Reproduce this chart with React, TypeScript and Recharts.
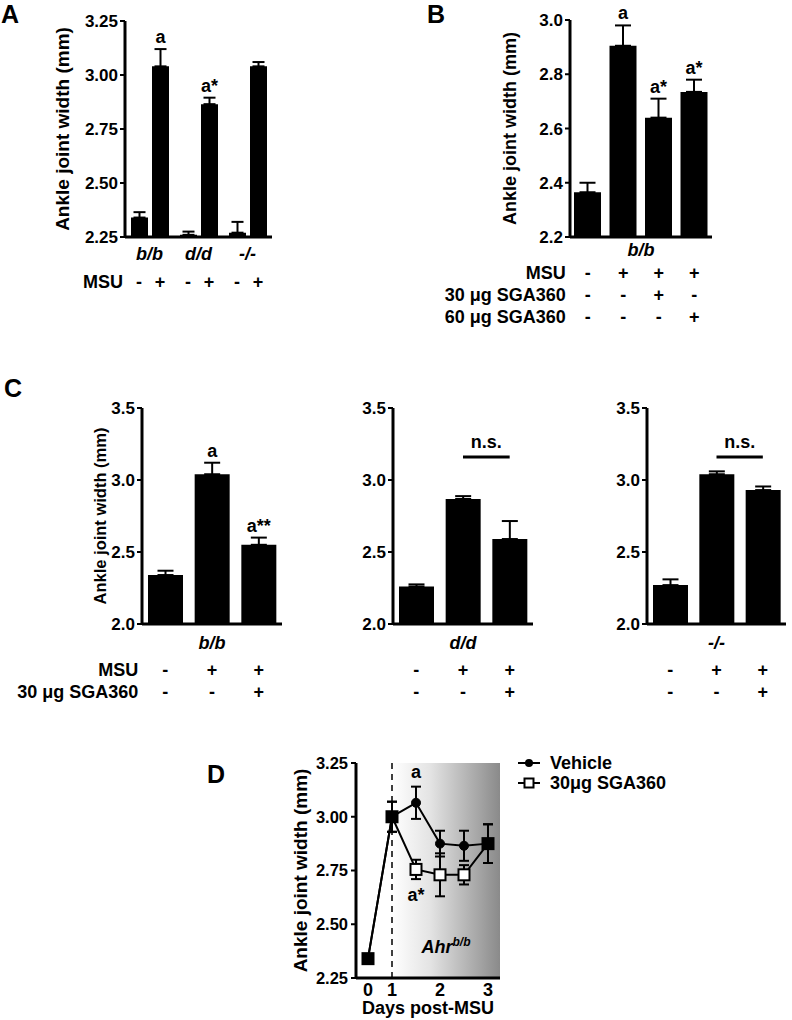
import React from "react";
import {
  BarChart,
  Bar,
  LineChart,
  Line,
  XAxis,
  YAxis,
  ErrorBar,
  LabelList,
  ReferenceLine,
  ReferenceArea,
  ReferenceDot,
  Legend,
} from "recharts";

const FONT = "'Liberation Sans', Arial, Helvetica, sans-serif";
const INK = "#000";
const Y_TITLE = "Ankle joint width (mm)";

// A: genotype x MSU
const A_GENOTYPES = ["b/b", "d/d", "-/-"];
const A_CTRL = [2.34, 2.26, 2.27];
const A_CTRL_SEM = [0.025, 0.015, 0.05];
const A_MSU = [3.04, 2.865, 3.04];
const A_MSU_SEM = [0.08, 0.03, 0.02];
const A_MSU_NOTE = ["a", "a*", ""];
const A_SIGNS = ["-", "+"];
const A_TICKS = [2.25, 2.5, 2.75, 3.0, 3.25];

// B: b/b, SGA360 dose
const B_GROUPS = ["veh", "msu", "msu30", "msu60"];
const B_MEAN = [2.365, 2.905, 2.64, 2.735];
const B_SEM = [0.035, 0.075, 0.07, 0.045];
const B_NOTE = ["", "a", "a*", "a*"];
const B_MSU = ["-", "+", "+", "+"];
const B_SGA30 = ["-", "-", "+", "-"];
const B_SGA60 = ["-", "-", "-", "+"];
const B_ROW_LABELS = ["MSU", "30 \u03bcg SGA360", "60 \u03bcg SGA360"];
const B_TICKS = [2.2, 2.4, 2.6, 2.8, 3.0];

// C: three genotypes, 30 ug SGA360
const C_GROUPS = ["veh", "msu", "msuSga"];
const C_MSU = ["-", "+", "+"];
const C_SGA30 = ["-", "-", "+"];
const C_ROW_LABELS = ["MSU", "30 \u03bcg SGA360"];
const C_TICKS = [2.0, 2.5, 3.0, 3.5];
const C_BB_MEAN = [2.34, 3.04, 2.55];
const C_BB_SEM = [0.03, 0.08, 0.05];
const C_BB_NOTE = ["", "a", "a**"];
const C_DD_MEAN = [2.26, 2.868, 2.59];
const C_DD_SEM = [0.015, 0.02, 0.125];
const C_KO_MEAN = [2.27, 3.04, 2.93];
const C_KO_SEM = [0.04, 0.02, 0.025];
const C_NS_LEVEL = 3.16;

// D: time course
const D_DAYS = [0, 1, 1.5, 2, 2.5, 3];
const D_VEH = [2.34, 3.0, 3.065, 2.875, 2.865, 2.875];
const D_VEH_SEM = [0.02, 0.07, 0.075, 0.06, 0.07, 0.09];
const D_VEH_NOTE = ["", "", "a", "", "", ""];
const D_SGA = [2.34, 3.0, 2.755, 2.73, 2.73, 2.875];
const D_SGA_SEM = [0.02, 0.07, 0.045, 0.1, 0.045, 0.09];
const D_SGA_NOTE = ["", "", "a*", "", "", ""];
const D_SERIES = ["Vehicle", "30\u03bcg SGA360"];
const D_TICK_DAYS = [0, 1, 2, 3];
const D_Y_TICKS = [2.25, 2.5, 2.75, 3.0, 3.25];

// the day axis is broken: day 0 sits half a day left of day 1
const dayToPos = (d: number) => (d === 0 ? 0.5 : d);

const aData = A_GENOTYPES.map((g, i) => ({
  genotype: g,
  ctrl: A_CTRL[i],
  ctrlErr: [0, A_CTRL_SEM[i]],
  msu: A_MSU[i],
  msuErr: [0, A_MSU_SEM[i]],
  note: A_MSU_NOTE[i],
}));

const bData = B_GROUPS.map((g, i) => ({
  group: g,
  mean: B_MEAN[i],
  err: [0, B_SEM[i]],
  note: B_NOTE[i],
}));

const dData = D_DAYS.map((d, i) => ({
  pos: dayToPos(d),
  veh: D_VEH[i],
  vehErr: D_VEH_SEM[i],
  sga: D_SGA[i],
  sgaErr: D_SGA_SEM[i],
}));

const tickFont = { fill: INK, fontSize: 17, fontWeight: "bold", fontFamily: FONT };
const axisStroke = { stroke: INK, strokeWidth: 3 };
const tickStroke = { stroke: INK, strokeWidth: 2 };

function yTitle(offset: number, size = 19) {
  return {
    value: Y_TITLE,
    angle: -90,
    position: "insideLeft" as const,
    offset,
    fontSize: size,
    fontWeight: "bold",
    fontFamily: FONT,
    fill: INK,
    style: { textAnchor: "middle" },
  };
}

// letter above the error bar of a bar, placed with the bar's own pixel scale
function noteAbove(means: number[], sems: number[], base: number, gap = 6) {
  return function NoteLabel(props: any) {
    const { value, index } = props;
    if (!value) return null;
    const box = props.viewBox ?? props;
    const { x, y, width, height } = box;
    const perUnit = Math.abs(height) / (means[index] - base);
    const top = Math.min(y, y + height) - sems[index] * perUnit;
    return (
      <text
        x={x + width / 2}
        y={top - gap}
        textAnchor="middle"
        fontSize={18}
        fontWeight="bold"
        fontFamily={FONT}
        fill={INK}
      >
        {value}
      </text>
    );
  };
}

const SIGN_OFFSET_A = (17 + 4) / 2;

function ATick(props: any) {
  const { x, y, payload, index } = props;
  return (
    <g fontFamily={FONT} fontWeight="bold" fontSize={18} fill={INK} textAnchor="middle">
      <text x={x} y={y + 23} fontStyle="italic">
        {payload.value}
      </text>
      <text x={x - SIGN_OFFSET_A} y={y + 51}>
        {A_SIGNS[0]}
      </text>
      <text x={x + SIGN_OFFSET_A} y={y + 51}>
        {A_SIGNS[1]}
      </text>
      {index === 0 && (
        <text x={x - SIGN_OFFSET_A - 16} y={y + 51} textAnchor="end">
          MSU
        </text>
      )}
    </g>
  );
}

function BTick(props: any) {
  const { x, y, index } = props;
  const rows = [B_MSU, B_SGA30, B_SGA60];
  return (
    <g fontFamily={FONT} fontWeight="bold" fontSize={18} fill={INK} textAnchor="middle">
      {rows.map((row, r) => (
        <text key={r} x={x} y={y + 42 + r * 22}>
          {row[index]}
        </text>
      ))}
      {index === 0 &&
        B_ROW_LABELS.map((label, r) => (
          <text key={`l${r}`} x={x - 22} y={y + 42 + r * 22} textAnchor="end">
            {label}
          </text>
        ))}
    </g>
  );
}

function CTick(props: any) {
  const { x, y, index, genotype, rowLabels } = props;
  const rows = [C_MSU, C_SGA30];
  return (
    <g fontFamily={FONT} fontWeight="bold" fontSize={18} fill={INK} textAnchor="middle">
      {index === 1 && (
        <text x={x} y={y + 25} fontStyle="italic">
          {genotype}
        </text>
      )}
      {rows.map((row, r) => (
        <text key={r} x={x} y={y + 52 + r * 22}>
          {row[index]}
        </text>
      ))}
      {rowLabels &&
        index === 0 &&
        C_ROW_LABELS.map((label, r) => (
          <text key={`l${r}`} x={x - 27} y={y + 52 + r * 22} textAnchor="end">
            {label}
          </text>
        ))}
    </g>
  );
}

function PanelA() {
  return (
    <BarChart
      width={290}
      height={300}
      data={aData}
      margin={{ top: 21, right: 18, left: 0, bottom: 0 }}
      barSize={17}
      barGap={4}
    >
      <XAxis
        dataKey="genotype"
        height={63}
        axisLine={axisStroke}
        tickLine={false}
        tickSize={0}
        tickMargin={0}
        interval={0}
        tick={<ATick />}
      />
      <YAxis
        domain={[2.25, 3.25]}
        ticks={A_TICKS}
        interval={0}
        allowDataOverflow
        width={125}
        tickFormatter={(v: number) => v.toFixed(2)}
        axisLine={axisStroke}
        tickLine={tickStroke}
        tickSize={5}
        tickMargin={2}
        tick={tickFont}
        label={yTitle(62)}
      />
      <Bar dataKey="ctrl" fill={INK} isAnimationActive={false}>
        <ErrorBar dataKey="ctrlErr" width={6} stroke={INK} strokeWidth={2} direction="y" />
      </Bar>
      <Bar dataKey="msu" fill={INK} isAnimationActive={false}>
        <ErrorBar dataKey="msuErr" width={6} stroke={INK} strokeWidth={2} direction="y" />
        <LabelList dataKey="note" content={noteAbove(A_MSU, A_MSU_SEM, 2.25)} />
      </Bar>
    </BarChart>
  );
}

function PanelB() {
  return (
    <BarChart
      width={300}
      height={330}
      data={bData}
      margin={{ top: 20, right: 8, left: 0, bottom: 0 }}
      barSize={27}
    >
      <XAxis
        dataKey="group"
        height={93}
        axisLine={axisStroke}
        tickLine={false}
        tickSize={0}
        tickMargin={0}
        interval={0}
        tick={<BTick />}
        label={{
          value: "b/b",
          position: "insideTop",
          offset: 6,
          fontSize: 18,
          fontWeight: "bold",
          fontStyle: "italic",
          fontFamily: FONT,
          fill: INK,
        }}
      />
      <YAxis
        domain={[2.2, 3.0]}
        ticks={B_TICKS}
        interval={0}
        allowDataOverflow
        width={150}
        tickFormatter={(v: number) => v.toFixed(1)}
        axisLine={axisStroke}
        tickLine={tickStroke}
        tickSize={5}
        tickMargin={2}
        tick={tickFont}
        label={yTitle(90, 18)}
      />
      <Bar dataKey="mean" fill={INK} isAnimationActive={false}>
        <ErrorBar dataKey="err" width={8} stroke={INK} strokeWidth={2} direction="y" />
        <LabelList dataKey="note" content={noteAbove(B_MEAN, B_SEM, 2.2)} />
      </Bar>
    </BarChart>
  );
}

interface CPanelProps {
  genotype: string;
  means: number[];
  sems: number[];
  notes?: string[];
  ns?: boolean;
  title?: boolean;
  width: number;
  axisWidth: number;
  right: number;
}

function CPanel({ genotype, means, sems, notes, ns, title, width, axisWidth, right }: CPanelProps) {
  const data = C_GROUPS.map((g, i) => ({
    group: g,
    mean: means[i],
    err: [0, sems[i]],
    note: notes ? notes[i] : "",
  }));
  return (
    <BarChart
      width={width}
      height={340}
      data={data}
      margin={{ top: 38, right, left: 0, bottom: 0 }}
      barSize={35}
    >
      <XAxis
        dataKey="group"
        height={86}
        axisLine={axisStroke}
        tickLine={false}
        tickSize={0}
        tickMargin={0}
        interval={0}
        tick={<CTick genotype={genotype} rowLabels={title} />}
      />
      <YAxis
        domain={[2.0, 3.5]}
        ticks={C_TICKS}
        interval={0}
        allowDataOverflow
        width={axisWidth}
        tickFormatter={(v: number) => v.toFixed(1)}
        axisLine={axisStroke}
        tickLine={tickStroke}
        tickSize={5}
        tickMargin={2}
        tick={tickFont}
        label={title ? yTitle(100, 16.5) : undefined}
      />
      {ns && (
        <ReferenceLine
          segment={[
            { x: C_GROUPS[1], y: C_NS_LEVEL },
            { x: C_GROUPS[2], y: C_NS_LEVEL },
          ]}
          stroke={INK}
          strokeWidth={3}
          label={{
            value: "n.s.",
            position: "top",
            offset: 9,
            fontSize: 18,
            fontWeight: "bold",
            fontFamily: FONT,
            fill: INK,
          }}
        />
      )}
      <Bar dataKey="mean" fill={INK} isAnimationActive={false}>
        <ErrorBar dataKey="err" width={8} stroke={INK} strokeWidth={2} direction="y" />
        {notes && <LabelList dataKey="note" content={noteAbove(means, sems, 2.0)} />}
      </Bar>
    </BarChart>
  );
}

function SquareDot(props: any) {
  const { cx, cy, payload, index } = props;
  if (cx == null || cy == null) return <g key={`sq-${index}`} />;
  const merged = payload.veh === payload.sga;
  return (
    <rect
      key={`sq-${index}`}
      x={cx - 5.5}
      y={cy - 5.5}
      width={11}
      height={11}
      fill={merged ? INK : "#fff"}
      stroke={INK}
      strokeWidth={2}
    />
  );
}

function DLegend() {
  return (
    <div style={{ fontFamily: FONT, fontWeight: "bold", fontSize: 18, color: INK }}>
      {D_SERIES.map((name, i) => (
        <div key={name} style={{ display: "flex", alignItems: "center", height: 20 }}>
          <svg width={22} height={14} style={{ marginRight: 10 }}>
            <line x1={0} y1={7} x2={22} y2={7} stroke={INK} strokeWidth={2} />
            {i === 0 ? (
              <circle cx={11} cy={7} r={4} fill={INK} />
            ) : (
              <rect x={6.5} y={2.5} width={9} height={9} fill="#fff" stroke={INK} strokeWidth={2} />
            )}
          </svg>
          <span>{name}</span>
        </div>
      ))}
    </div>
  );
}

function AhrLabel(props: any) {
  const vb = props.viewBox;
  return (
    <text
      x={vb.x + vb.width / 2}
      y={vb.y + vb.height - 25}
      textAnchor="middle"
      fontFamily={FONT}
      fontWeight="bold"
      fontStyle="italic"
      fontSize={18}
      fill={INK}
    >
      Ahr
      <tspan dy={-7} fontSize={12}>
        b/b
      </tspan>
    </text>
  );
}

const noteStyle = { fontSize: 18, fontWeight: "bold", fontFamily: FONT, fill: INK };

function PanelD() {
  return (
    <LineChart
      width={572}
      height={280}
      data={dData}
      margin={{ top: 23, right: 292, left: 0, bottom: 0 }}
    >
      <defs>
        <linearGradient id="ahrShade" x1="0" y1="0" x2="1" y2="0">
          <stop offset="0%" stopColor="#ffffff" />
          <stop offset="35%" stopColor="#e4e4e4" />
          <stop offset="100%" stopColor="#8a8a8a" />
        </linearGradient>
      </defs>
      <ReferenceArea
        x1={1}
        x2={3.25}
        y1={2.25}
        y2={3.25}
        fill="url(#ahrShade)"
        fillOpacity={1}
        stroke="none"
        label={{ content: AhrLabel }}
      />
      <ReferenceLine x={1} stroke={INK} strokeWidth={1.5} strokeDasharray="6 5" />
      <XAxis
        type="number"
        dataKey="pos"
        domain={[0.25, 3.25]}
        ticks={D_TICK_DAYS.map(dayToPos)}
        interval={0}
        allowDataOverflow
        height={42}
        tickFormatter={(_v: number, i: number) => String(D_TICK_DAYS[i])}
        axisLine={axisStroke}
        tickLine={false}
        tickSize={0}
        tickMargin={5}
        tick={{ ...tickFont, fontSize: 18 }}
        label={{
          value: "Days post-MSU",
          position: "insideBottom",
          offset: 6,
          fontSize: 18,
          fontWeight: "bold",
          fontFamily: FONT,
          fill: INK,
        }}
      />
      <YAxis
        domain={[2.25, 3.25]}
        ticks={D_Y_TICKS}
        interval={0}
        allowDataOverflow
        width={136}
        tickFormatter={(v: number) => v.toFixed(2)}
        axisLine={axisStroke}
        tickLine={tickStroke}
        tickSize={5}
        tickMargin={3}
        tick={{ ...tickFont, fontSize: 16.5 }}
        label={yTitle(80)}
      />
      <Legend
        layout="vertical"
        align="center"
        verticalAlign="middle"
        wrapperStyle={{ left: 298, top: 13, width: 200, height: 40 }}
        content={() => <DLegend />}
      />
      <Line
        dataKey="veh"
        stroke={INK}
        strokeWidth={2}
        dot={{ r: 4.5, fill: INK, stroke: INK, strokeWidth: 1 }}
        isAnimationActive={false}
      >
        <ErrorBar dataKey="vehErr" width={5} stroke={INK} strokeWidth={2} direction="y" />
      </Line>
      <Line
        dataKey="sga"
        stroke={INK}
        strokeWidth={2}
        dot={SquareDot}
        isAnimationActive={false}
      >
        <ErrorBar dataKey="sgaErr" width={5} stroke={INK} strokeWidth={2} direction="y" />
      </Line>
      {D_DAYS.map((d, i) =>
        D_VEH_NOTE[i] ? (
          <ReferenceDot
            key={`vn${i}`}
            x={dayToPos(d)}
            y={D_VEH[i] + D_VEH_SEM[i]}
            r={0}
            fill="none"
            stroke="none"
            label={{ value: D_VEH_NOTE[i], position: "top", offset: 9, ...noteStyle }}
          />
        ) : null
      )}
      {D_DAYS.map((d, i) =>
        D_SGA_NOTE[i] ? (
          <ReferenceDot
            key={`sn${i}`}
            x={dayToPos(d)}
            y={D_SGA[i] - D_SGA_SEM[i]}
            r={0}
            fill="none"
            stroke="none"
            label={{ value: D_SGA_NOTE[i], position: "bottom", offset: 9, ...noteStyle }}
          />
        ) : null
      )}
    </LineChart>
  );
}

function Letter({ text, left, top }: { text: string; left: number; top: number }) {
  return (
    <div
      style={{
        position: "absolute",
        left,
        top,
        fontSize: 25,
        lineHeight: "normal",
        fontWeight: "bold",
        fontFamily: FONT,
        color: INK,
      }}
    >
      {text}
    </div>
  );
}

export default function App() {
  return (
    <div
      style={{
        position: "absolute",
        left: 0,
        top: 0,
        width: 792,
        height: 1020,
        background: "#fff",
        overflow: "hidden",
      }}
    >
      <Letter text="A" left={1} top={0} />
      <Letter text="B" left={427} top={0} />
      <Letter text="C" left={4} top={374} />
      <Letter text="D" left={207} top={760} />

      <div style={{ position: "absolute", left: 0, top: 0 }}>
        <PanelA />
      </div>
      <div style={{ position: "absolute", left: 420, top: 0 }}>
        <PanelB />
      </div>

      <div style={{ position: "absolute", left: 0, top: 370 }}>
        <CPanel
          genotype="b/b"
          means={C_BB_MEAN}
          sems={C_BB_SEM}
          notes={C_BB_NOTE}
          title
          width={300}
          axisWidth={142}
          right={18}
        />
      </div>
      <div style={{ position: "absolute", left: 300, top: 370 }}>
        <CPanel genotype="d/d" means={C_DD_MEAN} sems={C_DD_SEM} ns width={250} axisWidth={93} right={17} />
      </div>
      <div style={{ position: "absolute", left: 550, top: 370 }}>
        <CPanel genotype="-/-" means={C_KO_MEAN} sems={C_KO_SEM} ns width={242} axisWidth={97} right={6} />
      </div>

      <div style={{ position: "absolute", left: 220, top: 740 }}>
        <PanelD />
      </div>
    </div>
  );
}
